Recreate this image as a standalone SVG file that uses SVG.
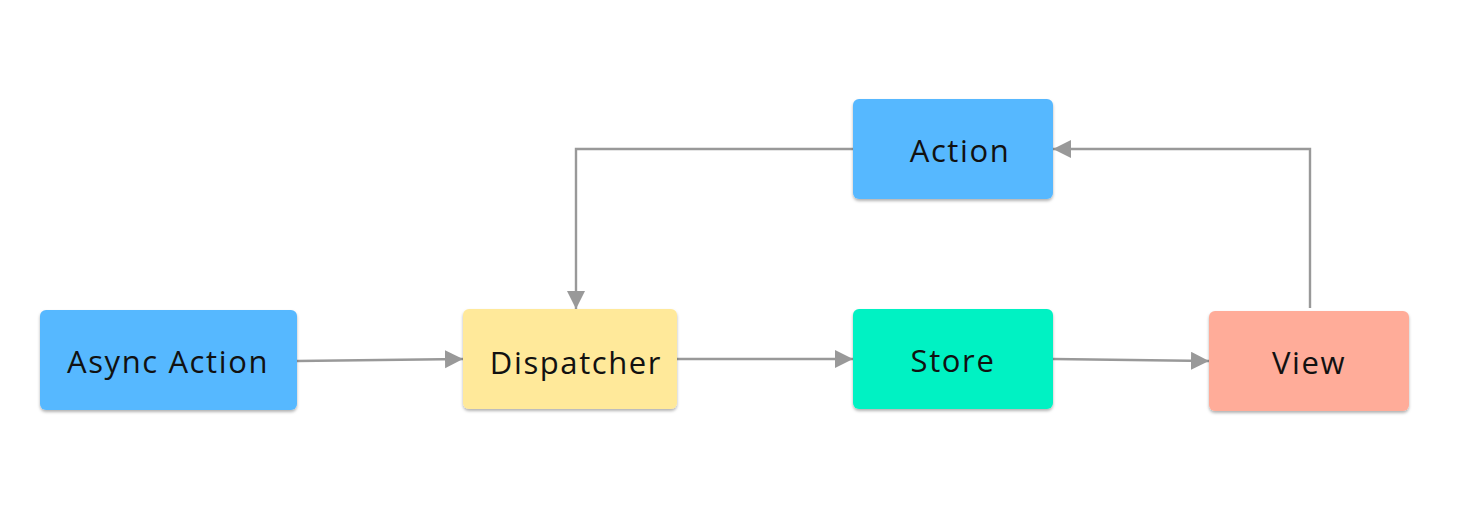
<svg xmlns="http://www.w3.org/2000/svg" width="1480" height="522" viewBox="0 0 1480 522">
<style>
.box{stroke:none;filter:url(#sh)}
.lbl{font-family:"Open Sans","DejaVu Sans",sans-serif;font-size:31px;letter-spacing:1.6px;fill:#111;text-anchor:middle;dominant-baseline:central}
.con{fill:none;stroke:#999;stroke-width:2.4;marker-end:url(#ah)}
</style>
<defs>
<filter id="sh" x="-10%" y="-10%" width="120%" height="130%"><feDropShadow dx="0" dy="2" stdDeviation="1.5" flood-color="#000" flood-opacity="0.3"/></filter>
<marker id="ah" markerWidth="20" markerHeight="20" refX="18" refY="9" orient="auto" markerUnits="userSpaceOnUse"><path d="M0,0 L18,9 L0,18 z" fill="#999"/></marker>
</defs>
<rect width="1480" height="522" fill="#fff"/>
<g id="connectors">
<path class="con" d="M297,361 L463,359"/>
<path class="con" d="M677,359 L853,359"/>
<path class="con" d="M1053,359 L1209,361"/>
<path class="con" d="M1310,308 L1310,149 L1053,149"/>
<path class="con" d="M853,149 L576,149 L576,309"/>
</g>
<g id="async-action"><rect class="box" x="40" y="310" width="257" height="100" rx="6" fill="#57b8ff"/><text class="lbl" x="168" y="361">Async Action</text></g>
<g id="dispatcher"><rect class="box" x="463" y="309" width="214" height="100" rx="6" fill="#ffe99a"/><text class="lbl" x="576" y="362">Dispatcher</text></g>
<g id="store"><rect class="box" x="853" y="309" width="200" height="100" rx="6" fill="#00f2c3"/><text class="lbl" x="953" y="360">Store</text></g>
<g id="view"><rect class="box" x="1209" y="311" width="200" height="100" rx="6" fill="#ffac99"/><text class="lbl" x="1309" y="362">View</text></g>
<g id="action"><rect class="box" x="853" y="99" width="200" height="100" rx="6" fill="#57b8ff"/><text class="lbl" x="960" y="150">Action</text></g>
</svg>
